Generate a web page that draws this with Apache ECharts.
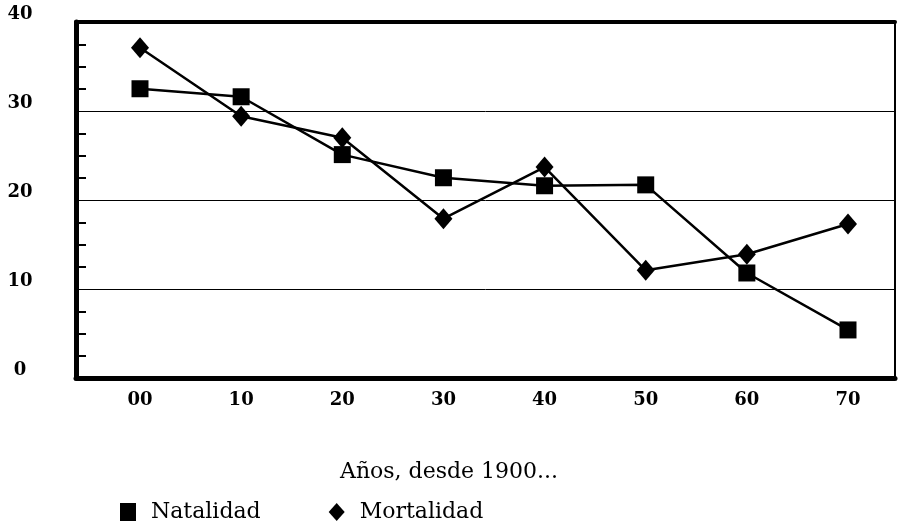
<!DOCTYPE html>
<html>
<head>
<meta charset="utf-8">
<title>Natalidad y Mortalidad</title>
<script src="https://cdn.jsdelivr.net/npm/echarts@6/dist/echarts.min.js"></script>
<style>
  html, body { margin: 0; padding: 0; background: #fff; }
  #chart { width: 898px; height: 528px; }
</style>
</head>
<body>
<div id="chart"></div>
<script>
// años desde 1900
const years = [0, 10, 20, 30, 40, 50, 60, 70];
const yearLabels = ["00", "10", "20", "30", "40", "50", "60", "70"];
const natalidad = [32.5, 31.6, 25.1, 22.5, 21.6, 21.7, 11.8, 5.4];
const mortalidad = [37.1, 29.4, 27.0, 17.9, 23.7, 12.1, 13.9, 17.3];
const yTicks = [0, 10, 20, 30, 40];

const serif = "DejaVu Serif";

const toPairs = (vals) => vals.map((v, i) => [years[i], v]);

const option = {
  animation: false,
  backgroundColor: "#fff",
  title: {
    text: "Años, desde 1900...",
    left: 335,
    top: 456,
    textStyle: {
      fontFamily: serif,
      fontWeight: "normal",
      fontSize: 22,
      color: "#000",
    },
  },
  legend: {
    left: 115,
    top: 496,
    itemWidth: 16,
    itemHeight: 18,
    itemGap: 68,
    data: [
      { name: "Natalidad", icon: "rect" },
      { name: "Mortalidad", icon: "diamond" },
    ],
    textStyle: {
      fontFamily: serif,
      fontSize: 22,
      color: "#000",
      padding: [0, 0, 0, 10],
    },
  },
  grid: [
    // marco y rejilla
    {
      left: 76,
      right: 3,
      top: 22,
      bottom: 150,
      show: true,
      borderColor: "#000",
      borderWidth: 2,
    },
    // zona de datos
    {
      left: 140,
      right: 50,
      top: 22,
      bottom: 150,
    },
  ],
  xAxis: [
    {
      gridIndex: 0,
      type: "value",
      min: 0,
      max: 1,
      position: "bottom",
      axisLine: { show: true, lineStyle: { color: "#000", width: 5 } },
      axisTick: { show: false },
      axisLabel: { show: false },
      splitLine: { show: false },
    },
    {
      gridIndex: 0,
      type: "value",
      min: 0,
      max: 1,
      position: "top",
      axisLine: { show: true, lineStyle: { color: "#000", width: 4 } },
      axisTick: { show: false },
      axisLabel: { show: false },
      splitLine: { show: false },
    },
    {
      gridIndex: 1,
      type: "value",
      min: 0,
      max: 70,
      interval: 10,
      axisLine: { show: false },
      axisTick: { show: false },
      splitLine: { show: false },
      axisLabel: {
        margin: 13,
        fontFamily: serif,
        fontWeight: "bold",
        fontSize: 18,
        color: "#000",
        formatter: (v) => yearLabels[years.indexOf(v)] || "",
      },
    },
  ],
  yAxis: [
    {
      gridIndex: 0,
      type: "value",
      min: yTicks[0],
      max: yTicks[yTicks.length - 1],
      interval: 10,
      axisLine: { show: true, lineStyle: { color: "#000", width: 5 } },
      axisTick: { show: false, inside: true },
      minorTick: {
        show: true,
        splitNumber: 4,
        length: 10,
        lineStyle: { color: "#000", width: 2 },
      },
      minorSplitLine: { show: false },
      splitLine: { show: true, lineStyle: { color: "#000", width: 1 } },
      axisLabel: {
        margin: 56,
        align: "center",
        verticalAlign: "bottom",
        lineHeight: 16,
        fontFamily: serif,
        fontWeight: "bold",
        fontSize: 18,
        color: "#000",
      },
    },
    {
      gridIndex: 1,
      type: "value",
      min: 0,
      max: 40,
      show: false,
    },
  ],
  series: [
    {
      name: "Natalidad",
      type: "line",
      xAxisIndex: 2,
      yAxisIndex: 1,
      data: toPairs(natalidad),
      symbol: "rect",
      symbolSize: 17,
      lineStyle: { color: "#000", width: 2.5 },
      itemStyle: { color: "#000" },
      z: 3,
    },
    {
      name: "Mortalidad",
      type: "line",
      xAxisIndex: 2,
      yAxisIndex: 1,
      data: toPairs(mortalidad),
      symbol: "diamond",
      symbolSize: [18, 21],
      lineStyle: { color: "#000", width: 2.5 },
      itemStyle: { color: "#000" },
      z: 3,
    },
  ],
};

const chart = echarts.init(document.getElementById("chart"), null, { renderer: "canvas" });
chart.setOption(option);
</script>
</body>
</html>
